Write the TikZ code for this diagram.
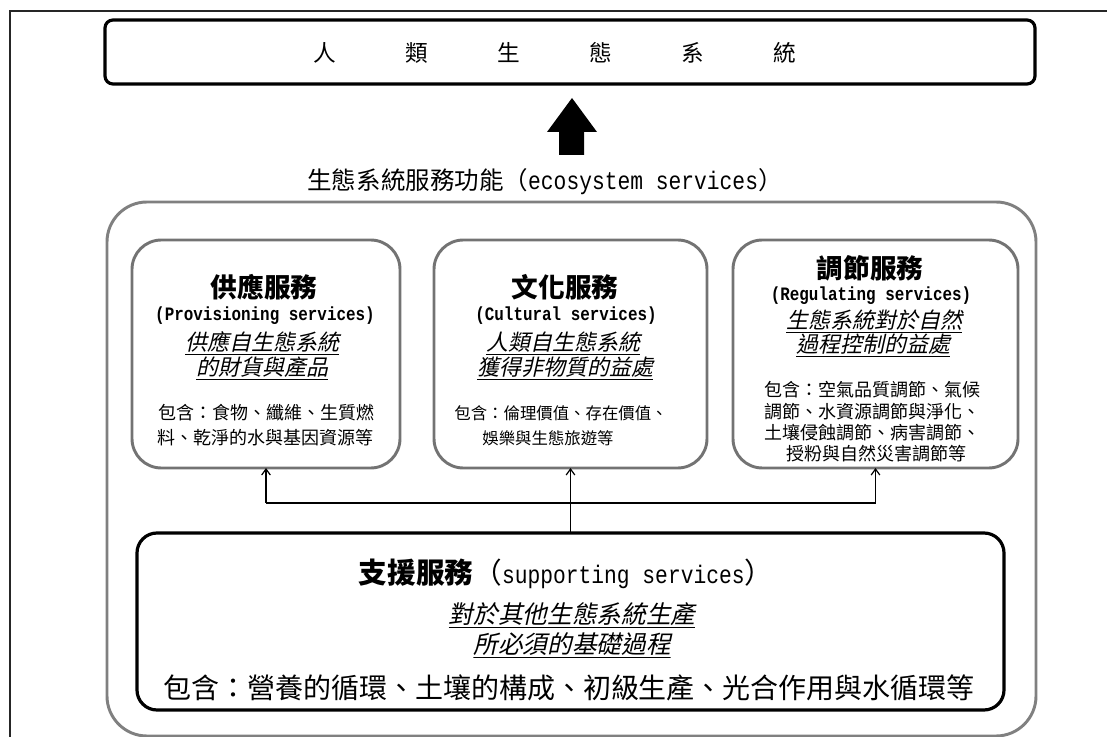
\documentclass[tikz,border=0pt]{standalone}
\usepackage{fontspec}
\usetikzlibrary{arrows.meta}
\newfontfamily\cjk{Noto Sans CJK TC}
\newfontfamily\cjksl{Noto Sans CJK TC}[FakeSlant=0.22]
\newfontfamily\lat{Liberation Mono}[FakeStretch=0.84]
\newcommand\fs[1]{\fontsize{#1}{#1}\selectfont}
\begin{document}
\begin{tikzpicture}[x=0.75pt,y=-0.75pt,
  every node/.style={inner sep=0pt, outer sep=0pt},
  topbox/.style={draw=black, line width=2.4pt, rounded corners=6pt},
  outerbox/.style={draw=black!50, line width=2.2pt, rounded corners=30pt},
  svcbox/.style={draw=black!55, line width=2.2pt, rounded corners=22pt},
  suppbox/.style={draw=black, line width=2.4pt, rounded corners=15pt},
  conn/.style={draw=black, line width=0.9pt},
  tip/.style={-{Straight Barb[length=4.5pt,width=6.5pt,line width=0.9pt]}},
  uline/.style={inner ysep=2.2pt, path picture={\draw[line width=1.1pt]
     ([yshift=0.6pt]path picture bounding box.south west) --
     ([yshift=0.6pt]path picture bounding box.south east);}},
  head/.style={font=\cjk\bfseries\fs{20}},
  eng/.style={font=\lat\bfseries\fs{14.2}},
  itl/.style={font=\cjksl\fs{16.5}, uline},
  body/.style={font=\cjk\fs{13.5}},
  bodym/.style={font=\cjk\fs{12.3}}]
\useasboundingbox (0,0) rectangle (1107,737);
% page frame
\draw[black!85, line width=1pt] (1107,11) -- (10,11) -- (10,737);
% human ecosystem box
\node[topbox, minimum width=697.5pt, minimum height=48pt] (human) at (570,52) {};
\node[font=\cjk\fs{17}] (humantxt) at (555,53)
  {人\hspace{52pt}類\hspace{52pt}生\hspace{52pt}態\hspace{52pt}系\hspace{52pt}統};
% block arrow
\fill[black] (572,98) -- (597,132) -- (584,132) -- (584,155) -- (559,155)
  -- (559,132) -- (547,132) -- cycle;
% title
\node (estitle) at (545,182)
  {{\cjk\fs{18.4}生態系統服務功能（}{\lat\fs{19}ecosystem services}{\cjk\fs{18.4}）}};
% outer container
\node[outerbox, minimum width=696.75pt, minimum height=400.5pt] (es) at (571.5,469) {};
% three service boxes
\node[svcbox, minimum width=201pt, minimum height=171pt] (prov) at (266,354) {};
\node[svcbox, minimum width=204.75pt, minimum height=171pt] (cult) at (570.5,354) {};
\node[svcbox, minimum width=213.75pt, minimum height=171pt] (reg) at (875.5,354) {};
% supporting box
\node[suppbox, minimum width=650.25pt, minimum height=132.75pt] (supp) at (570.5,621.5) {};
% provisioning text
\node[head] (provh) at (264,287) {供應服務};
\node[eng] (prove) at (265,316) {(Provisioning services)};
\node[itl] (provi1) at (262,342) {供應自生態系統};
\node[itl] (provi2) at (262,367) {的財貨與產品};
\node[body] (provb1) at (266,413) {包含：食物、纖維、生質燃};
\node[body] (provb2) at (265,438) {料、乾淨的水與基因資源等};
% cultural text
\node[head] (culth) at (565,287) {文化服務};
\node[eng] (culte) at (566,316) {(Cultural services)};
\node[itl] (culti1) at (563,342) {人類自生態系統};
\node[itl] (culti2) at (565,367) {獲得非物質的益處};
\node[bodym] (cultb1) at (561,413) {包含：倫理價值、存在價值、};
\node[bodym] (cultb2) at (548,438) {娛樂與生態旅遊等};
% regulating text
\node[head] (regh) at (870,268) {調節服務};
\node[eng] (rege) at (871,296) {(Regulating services)};
\node[itl] (regi1) at (874,320) {生態系統對於自然};
\node[itl] (regi2) at (873,344) {過程控制的益處};
\node[body] (regb1) at (872,390) {包含：空氣品質調節、氣候};
\node[body] (regb2) at (872,412) {調節、水資源調節與淨化、};
\node[body] (regb3) at (872,433) {土壤侵蝕調節、病害調節、};
\node[body] (regb4) at (876,454) {授粉與自然災害調節等};
% supporting text
\node (supph) at (566,574)
  {{\cjk\bfseries\fs{21.5}支援服務}{\cjk\fs{21.5}（}{\lat\fs{19}supporting services}{\cjk\fs{21.5}）}};
\node[itl, font=\cjksl\fs{18.5}] (suppi1) at (572,614) {對於其他生態系統生產};
\node[itl, font=\cjksl\fs{18.5}] (suppi2) at (572,644) {所必須的基礎過程};
\node[font=\cjk\fs{21}] (suppb) at (569,688) {包含：營養的循環、土壤的構成、初級生產、光合作用與水循環等};
% connectors
\coordinate (jm) at (570.5,503);
\coordinate (jl) at (prov.south |- jm);
\coordinate (jr) at (reg.south |- jm);
\draw[conn] (jl) -- (jr);
\draw[conn, tip] (jl) -- (prov.south);
\draw[conn, tip] (jr) -- (reg.south);
\draw[conn, tip] (supp.north) -- (cult.south);
\end{tikzpicture}
\end{document}
